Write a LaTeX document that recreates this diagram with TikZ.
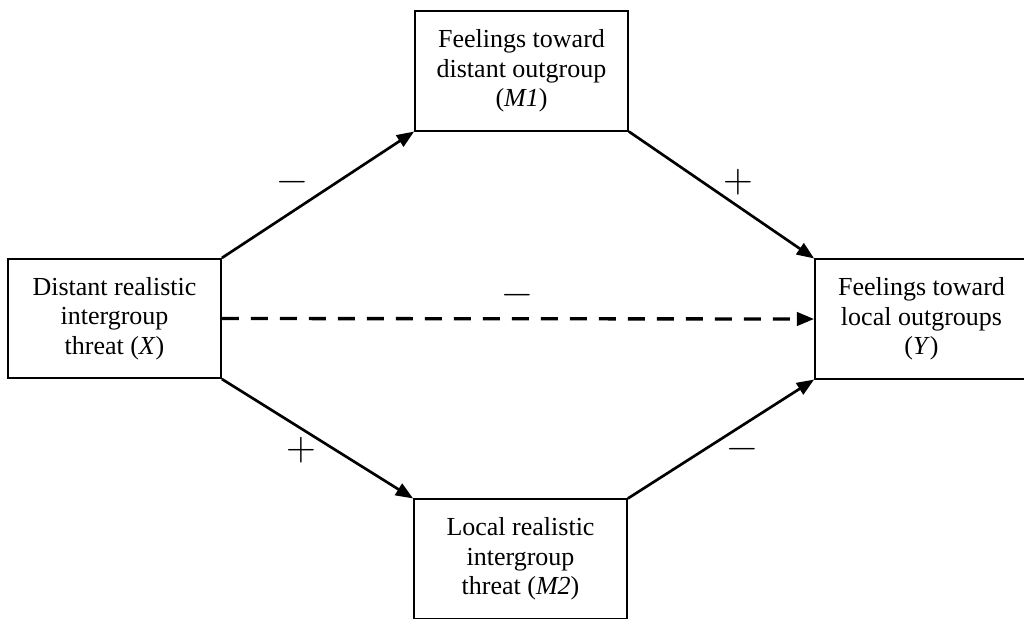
\documentclass[tikz,border=0pt]{standalone}
\usepackage{fontspec}
\setmainfont{Liberation Serif}
\newfontfamily\signfont{Latin Modern Roman}
\usetikzlibrary{arrows.meta}
\begin{document}
\begin{tikzpicture}[x=0.75pt,y=-0.75pt,
  box/.style={draw, line width=1.3pt, minimum width=159.75pt, minimum height=89.5pt,
    align=center, inner sep=0pt, font=\fontsize{19.5}{22}\selectfont},
  conn/.style={line width=2pt, -{Triangle[length=13pt,width=10pt]}},
  dconn/.style={line width=2.5pt, dash pattern=on 12.75pt off 9pt, -{Triangle[length=13pt,width=10pt]}},
  sign/.style={inner sep=0pt, anchor=base, font=\signfont\fontsize{31}{31}\selectfont}]
\useasboundingbox (0,0) rectangle (1024,618);
\node[box] (X) at (114.5,318.5) {Distant realistic\\intergroup\\threat (\textit{X})};
\node[box] (M1) at (521.5,71) {Feelings toward\\distant outgroup\\(\textit{M1})};
\node[box] (Y) at (921.5,319) {Feelings toward\\local outgroups\\(\textit{Y})};
\node[box] (M2) at (520.5,559) {Local realistic\\intergroup\\threat (\textit{M2})};
\draw[conn] (X.north east) -- (M1.south west);
\draw[conn] (M1.south east) -- (Y.north west);
\draw[dconn] (X.east) -- (Y.west);
\draw[conn] (X.south east) -- (M2.north west);
\draw[conn] (M2.north east) -- (Y.south west);
\node[sign] (s1) at (292,192) {−};
\node[sign] (s2) at (738,192) {+};
\node[sign] (s3) at (517,305) {−};
\node[sign] (s4) at (301,460) {+};
\node[sign] (s5) at (742,459) {−};
\end{tikzpicture}
\end{document}
